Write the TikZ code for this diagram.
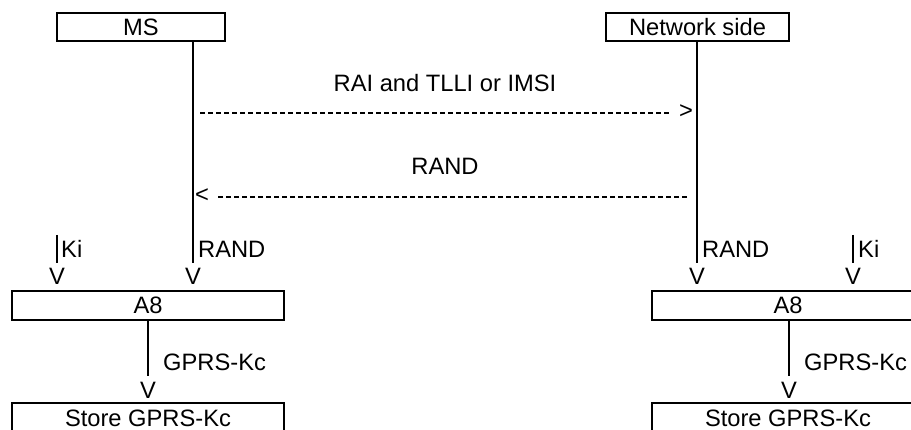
\documentclass[tikz,border=0pt]{standalone}
\usepackage{fontspec}
\setmainfont{Liberation Sans}
\usetikzlibrary{positioning}
\begin{document}
\begin{tikzpicture}[x=1pt,y=-1pt,
    every node/.style={inner sep=0pt,font=\fontsize{23.7}{28}\selectfont},
    box/.style={draw,line width=2.3pt,minimum height=28pt},
    life/.style={line width=2.3pt},
    msg/.style={line width=1.8pt,dash pattern=on 5pt off 3pt}]
  \useasboundingbox (0,0) rectangle (911,430);
  % entities
  \node[box,minimum width=168pt] (ms) at (141,27) {MS};
  \node[box,minimum width=183pt] (net) at (697.5,27) {Network side};
  % messages
  \node[anchor=base] (m1) at (445,92) {RAI and TLLI or IMSI};
  \node (gt) at (686,112) {>};
  \coordinate (m1a) at (200,113);
  \draw[msg] (m1a) -- ([xshift=-10pt]m1a -| gt.west);
  \node[anchor=base] (m2) at (445,175) {RAND};
  \node (lt) at (202,196) {<};
  \coordinate (m2b) at (687,197);
  \draw[msg] (m2b) -- ([xshift=9pt]m2b -| lt.east);
  % MS side
  \node (vKiL) at (57,276.5) {V};
  \node (vRandL) at (193,276.5) {V};
  \coordinate (kiL) at (57,235);
  \draw[life] (ms.south -| vRandL) -- ([yshift=5pt]vRandL.north);
  \draw[life] (kiL) -- ([yshift=5pt]vKiL.north);
  \node[anchor=base west] (kiLbl) at (61,258) {Ki};
  \node[anchor=base west] (randLbl) at (198,258) {RAND};
  \node[box,minimum width=272pt,minimum height=29pt] (a8L) at (148,305.5) {A8};
  \node (vKcL) at (148,390.5) {V};
  \draw[life] (a8L) -- ([yshift=6pt]vKcL.north);
  \node[anchor=base west] (kcLbl) at (163,371) {GPRS-Kc};
  \node[box,minimum width=272pt,minimum height=30pt] (storeL) at (148,418) {Store GPRS-Kc};
  % network side
  \node (vRandR) at (697,276.5) {V};
  \node (vKiR) at (853,276.5) {V};
  \coordinate (kiR) at (853,235);
  \draw[life] (net.south -| vRandR) -- ([yshift=5pt]vRandR.north);
  \draw[life] (kiR) -- ([yshift=5pt]vKiR.north);
  \node[anchor=base west] (randRbl) at (702,258) {RAND};
  \node[anchor=base west] (kiRbl) at (858,258) {Ki};
  \node[box,minimum width=272pt,minimum height=29pt] (a8R) at (788,305.5) {A8};
  \node (vKcR) at (789,390.5) {V};
  \draw[life] (a8R.south -| vKcR) -- ([yshift=6pt]vKcR.north);
  \node[anchor=base west] (kcRbl) at (804,371) {GPRS-Kc};
  \node[box,minimum width=272pt,minimum height=30pt] (storeR) at (788,418) {Store GPRS-Kc};
\end{tikzpicture}
\end{document}
